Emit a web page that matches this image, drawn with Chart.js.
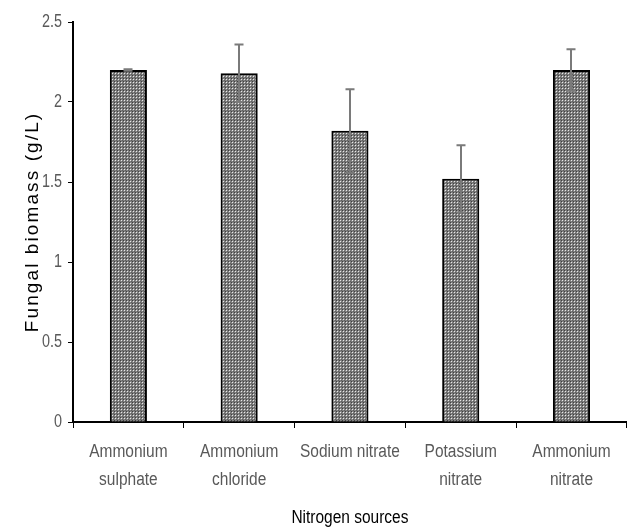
<!DOCTYPE html>
<html>
<head>
<meta charset="utf-8">
<script src="https://cdn.jsdelivr.net/npm/chart.js@4/dist/chart.umd.min.js"></script>
<style>
  html, body { margin: 0; padding: 0; background: #fff; }
  #wrap { width: 627px; height: 530px; }
</style>
</head>
<body>
<div id="wrap"><canvas id="c" width="627" height="530"></canvas></div>
<script>
// Nitrogen source categories (two-line labels)
const categories = [
  ['Ammonium', 'sulphate'],
  ['Ammonium', 'chloride'],
  ['Sodium nitrate'],
  ['Potassium', 'nitrate'],
  ['Ammonium', 'nitrate']
];
// Mean fungal biomass (g/L)
const biomass = [2.2, 2.18, 1.82, 1.52, 2.2];
// Standard deviation for each mean
const biomassError = [0.004, 0.18, 0.26, 0.21, 0.13];
// Y-axis tick values
const yTicks = [0, 0.5, 1, 1.5, 2, 2.5];

// Small cross-hatched fill tile for the bars
function hatchPattern() {
  const t = document.createElement('canvas');
  t.width = 3; t.height = 3;
  const g = t.getContext('2d');
  const rows = [
    ['#404040', '#808080', '#808080'],
    ['#808080', '#e8e8e8', '#808080'],
    ['#808080', '#808080', '#5e5e5e']
  ];
  rows.forEach((r, y) => r.forEach((col, x) => { g.fillStyle = col; g.fillRect(x, y, 1, 1); }));
  return document.getElementById('c').getContext('2d').createPattern(t, 'repeat');
}

// Error whiskers drawn from the dataset through the chart scales
const errorBars = {
  id: 'errorBars',
  afterDatasetsDraw(chart) {
    const ctx = chart.ctx;
    const y = chart.scales.y;
    const meta = chart.getDatasetMeta(0);
    ctx.save();
    ctx.strokeStyle = '#7a7a7a';
    ctx.lineWidth = 2;
    meta.data.forEach((bar, i) => {
      const v = biomass[i], e = biomassError[i];
      const top = y.getPixelForValue(v + e);
      const bot = y.getPixelForValue(v - e);
      const x = Math.round(bar.x);
      ctx.beginPath();
      ctx.moveTo(x, top); ctx.lineTo(x, bot);
      ctx.moveTo(x - 4.5, top); ctx.lineTo(x + 4.5, top);
      ctx.moveTo(x - 4.5, bot); ctx.lineTo(x + 4.5, bot);
      ctx.stroke();
    });
    ctx.restore();
  }
};

// Run a scale drawing method with horizontally narrowed glyphs
function narrowed(scale, method, k) {
  const orig = scale[method];
  scale[method] = function (...args) {
    const ctx = this.ctx;
    const fill = ctx.fillText;
    ctx.fillText = function (t, x, y, mw) {
      this.save();
      this.translate(x, y);
      this.scale(k, 1);
      if (mw === undefined) fill.call(this, t, 0, 0);
      else fill.call(this, t, 0, 0, mw / k);
      this.restore();
    };
    try { orig.apply(this, args); } finally { delete ctx.fillText; }
  };
}

// Text styling hooks for the axes
const axisText = {
  id: 'axisText',
  afterLayout(chart) {
    const { x, y } = chart.scales;
    if (x._styled) return;
    narrowed(x, 'drawLabels', 0.86);
    narrowed(x, 'drawTitle', 0.86);
    narrowed(y, 'drawLabels', 0.8);
    const origTitle = y.drawTitle;
    y.drawTitle = function (...args) {
      const ctx = this.ctx;
      const prev = ctx.letterSpacing;
      ctx.letterSpacing = '2.1px';
      origTitle.apply(this, args);
      ctx.letterSpacing = prev || '0px';
    };
    x._styled = true;
  }
};

const sans = "'Liberation Sans', Arial, sans-serif";

new Chart(document.getElementById('c'), {
  type: 'bar',
  data: {
    labels: categories,
    datasets: [{
      data: biomass,
      backgroundColor: hatchPattern(),
      borderColor: '#000',
      borderWidth: 2,
      borderSkipped: 'bottom',
      barPercentage: 0.335,
      categoryPercentage: 1
    }]
  },
  plugins: [errorBars, axisText],
  options: {
    responsive: false,
    animation: false,
    devicePixelRatio: 1,
    layout: { padding: { top: 22, right: 0, left: 0, bottom: 0 } },
    plugins: { legend: { display: false }, tooltip: { enabled: false } },
    scales: {
      x: {
        offset: true,
        grid: {
          offset: true, drawOnChartArea: false, drawTicks: true,
          tickLength: 6, color: '#000', lineWidth: 1
        },
        border: { color: '#000', width: 2 },
        ticks: {
          color: '#595959', font: { family: sans, size: 18, lineHeight: 1.55 },
          padding: 10, maxRotation: 0, autoSkip: false
        },
        title: {
          display: true, text: 'Nitrogen sources', color: '#000',
          font: { family: sans, size: 18, lineHeight: 1.0 }, padding: { top: 10, bottom: 3 }
        },
        afterFit(s) { s.height = 108; }
      },
      y: {
        min: 0, max: 2.5,
        afterBuildTicks(s) { s.ticks = yTicks.map(v => ({ value: v })); },
        grid: { drawOnChartArea: false, tickLength: 5, color: '#000', lineWidth: 1 },
        border: { color: '#000', width: 2 },
        ticks: {
          color: '#595959', font: { family: sans, size: 18 }, padding: 6,
          callback: v => String(v)
        },
        title: {
          display: true, text: 'Fungal biomass (g/L)', color: '#000',
          font: { family: sans, size: 19 }, padding: { top: 21, bottom: 6 }
        },
        afterFit(s) { s.width = 73; }
      }
    }
  }
});
</script>
</body>
</html>
